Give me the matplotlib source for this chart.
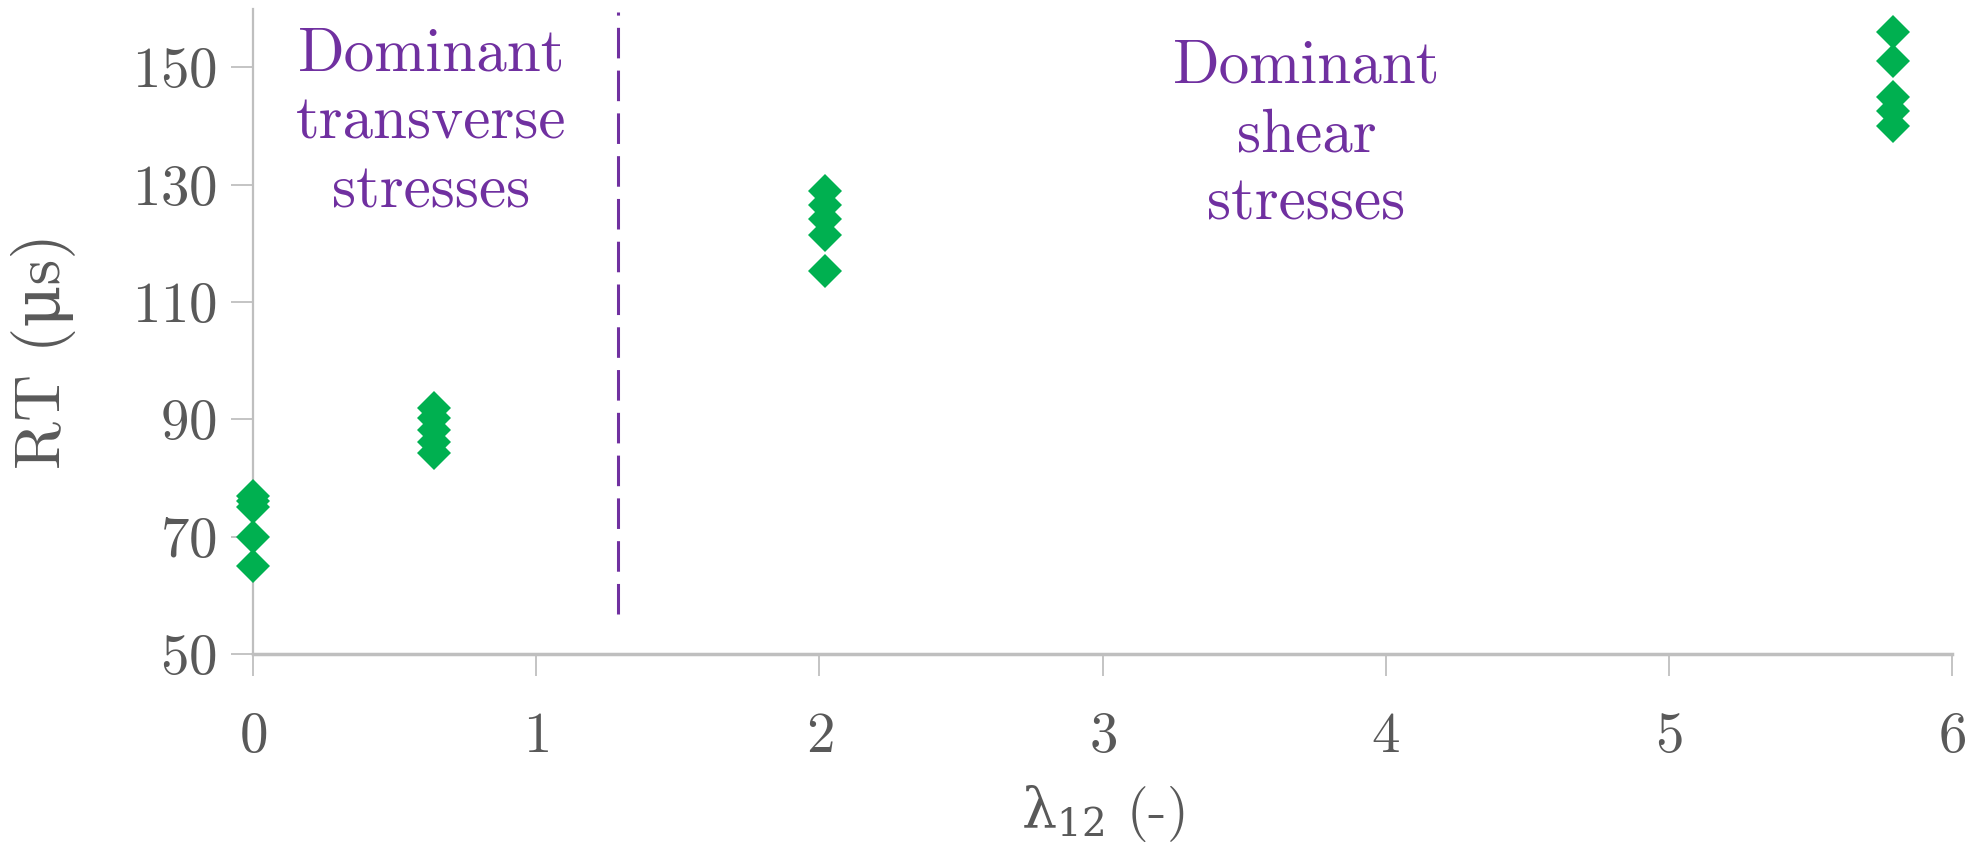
import numpy as np
import matplotlib.pyplot as plt

# Dados
x_pts = [0.0] * 5 + [0.64] * 5 + [2.02] * 5 + [5.79] * 5
rt_pts = [77, 76, 75, 70, 65,
          92, 90.3, 88.2, 86.2, 84.3,
          129, 126.5, 124.2, 121.5, 115.2,
          156, 151, 145, 142.5, 140]

x_ticks = [0, 1, 2, 3, 4, 5, 6]
y_ticks = [50, 70, 90, 110, 130, 150]
limite = 1.29  # linha vertical tracejada

plt.rcParams['font.family'] = ['cmr10', 'DejaVu Serif']
plt.rcParams['mathtext.fontset'] = 'custom'
plt.rcParams['mathtext.rm'] = 'DejaVu Serif'
plt.rcParams['mathtext.it'] = 'DejaVu Serif:italic'
plt.rcParams['axes.formatter.use_mathtext'] = True

cinza = "#BFBFBF"
texto = "#595959"
roxo = "#7030A0"
verde = "#00B050"

fig = plt.figure(figsize=(19.84, 8.65), dpi=100)
ax = fig.add_axes([0.1275, 0.244, 0.8565, 0.746])

ax.plot(x_pts, rt_pts, ls="none", marker="D", ms=17, mew=0, c=verde, clip_on=False, zorder=3)

ax.plot([limite, limite], [56.8, 159.5], c=roxo, lw=2.2, ls=(0, (10, 4)))

ax.text(0.63, 140.5, "Dominant\ntransverse\nstresses", color=roxo, fontsize=44,
        ha="center", va="center", linespacing=1.3)
ax.text(3.72, 138.4, "Dominant\nshear\nstresses", color=roxo, fontsize=44,
        ha="center", va="center", linespacing=1.3)

ax.set_xlim(0, 6)
ax.set_ylim(50, 160)
ax.set_xticks(x_ticks)
ax.set_yticks(y_ticks)

ax.set_xlabel(r"$\mathrm{\lambda}_{\mathrm{12}}$ (-)", color=texto, fontsize=40, labelpad=14)
ax.set_ylabel("RT (μs)", color=texto, fontsize=47)
ax.yaxis.set_label_coords(-0.104, 0.47)

for s in ["top", "right"]:
    ax.spines[s].set_visible(False)
ax.spines["bottom"].set_color(cinza)
ax.spines["bottom"].set_linewidth(2.5)
ax.spines["left"].set_color(cinza)
ax.spines["left"].set_linewidth(1.6)

ax.tick_params(axis="x", colors=cinza, labelcolor=texto, labelsize=41,
               length=16, width=1.3, pad=26, direction="out")
ax.tick_params(axis="y", colors=cinza, labelcolor=texto, labelsize=41,
               length=16, width=1.3, pad=10, direction="out")

fig.savefig("out.png", dpi=100)
